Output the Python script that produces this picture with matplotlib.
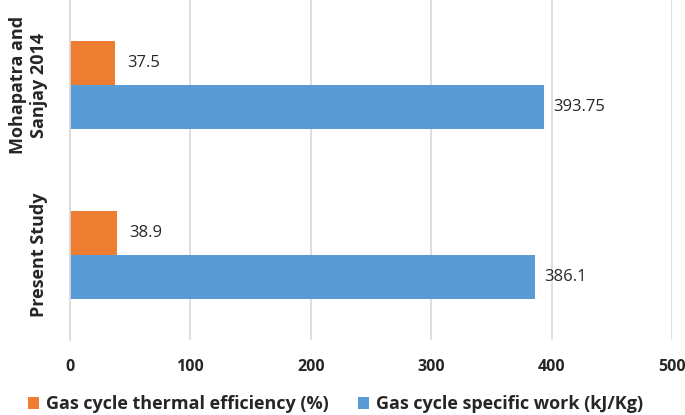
import matplotlib.pyplot as plt
import numpy as np

categories = ["Present Study", "Mohapatra and\nSanjay 2014"]
specific_work = [386.1, 393.75]
thermal_eff = [38.9, 37.5]
work_labels = ["386.1", "393.75"]
eff_labels = ["38.9", "37.5"]

plt.rcParams['font.family'] = ['Open Sans', 'DejaVu Sans']

fig = plt.figure(figsize=(6.85, 4.15), dpi=100)
ax = fig.add_axes([70 / 685, 75 / 415, 602 / 685, 340 / 415])

y = np.arange(len(categories))
h = 0.257
b1 = ax.barh(y - h / 2, specific_work, height=h, color='#5B9BD5',
             label='Gas cycle specific work (kJ/Kg)')
b2 = ax.barh(y + h / 2, thermal_eff, height=h, color='#ED7D31',
             label='Gas cycle thermal efficiency (%)')

ax.bar_label(b1, labels=work_labels, padding=6.5, fontsize=12, color='#262626')
ax.bar_label(b2, labels=eff_labels, padding=9, fontsize=12, color='#262626')

ax.set_xlim(0, 500)
ax.set_ylim(-0.5, 1.5)
ax.set_xticks([0, 100, 200, 300, 400, 500])
ax.set_yticks(y)
ax.set_yticklabels(categories, rotation=90, va='center', ha='right',
                   fontsize=13, fontweight='bold', color='#262626',
                   multialignment='center')
ax.tick_params(axis='y', length=0, pad=16)
ax.tick_params(axis='x', length=0, pad=14, labelsize=11.5, labelcolor='#262626')
for t in ax.get_xticklabels():
    t.set_fontweight('bold')

ax.grid(axis='x', color='#D9D9D9', linewidth=1.2)
ax.set_axisbelow(True)
for s in ['top', 'right', 'bottom']:
    ax.spines[s].set_visible(False)
ax.spines['left'].set_color('#D9D9D9')
ax.spines['left'].set_linewidth(1.2)

handles = [b2, b1]
leg = fig.legend(handles, [hh.get_label() for hh in handles], loc='lower center',
                 bbox_to_anchor=(0.49, -0.035), ncol=2, frameon=False,
                 handlelength=0.6, handleheight=0.6, handletextpad=0.4,
                 columnspacing=1.6,
                 prop={'weight': 'bold', 'size': 13})
for t in leg.get_texts():
    t.set_color('#262626')

fig.savefig('out.png', dpi=100)
